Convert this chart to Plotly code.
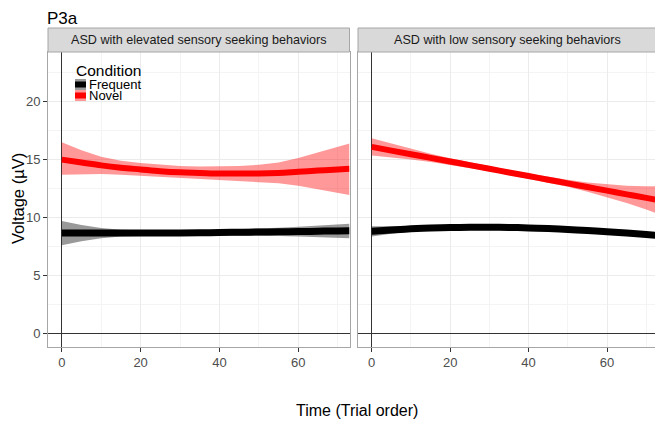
import plotly.graph_objects as go

# ---------------- data ----------------
trial = [0, 5, 10, 15, 20, 25, 30, 35, 40, 45, 50, 55, 60, 65, 70, 73]

panels = ["ASD with elevated sensory seeking behaviors", "ASD with low sensory seeking behaviors"]
conditions = ["Frequent", "Novel"]

# elevated sensory seeking
elev_freq_mean = [8.65, 8.65, 8.65, 8.65, 8.65, 8.65, 8.65, 8.67, 8.70, 8.72, 8.74, 8.76, 8.78, 8.81, 8.84, 8.85]
elev_freq_lo = [7.60, 7.95, 8.20, 8.35, 8.40, 8.45, 8.45, 8.45, 8.45, 8.45, 8.42, 8.40, 8.35, 8.30, 8.25, 8.20]
elev_freq_hi = [9.70, 9.35, 9.10, 8.95, 8.90, 8.88, 8.87, 8.88, 8.93, 8.98, 9.05, 9.12, 9.20, 9.30, 9.40, 9.45]
elev_nov_mean = [15.0, 14.75, 14.5, 14.3, 14.15, 14.0, 13.9, 13.85, 13.8, 13.8, 13.8, 13.85, 13.95, 14.05, 14.15, 14.2]
elev_nov_lo = [13.7, 13.75, 13.75, 13.7, 13.6, 13.5, 13.4, 13.3, 13.2, 13.15, 13.05, 12.95, 12.75, 12.45, 12.15, 11.95]
elev_nov_hi = [16.5, 15.8, 15.25, 14.9, 14.7, 14.55, 14.45, 14.4, 14.4, 14.45, 14.55, 14.75, 15.15, 15.65, 16.15, 16.4]

# low sensory seeking
low_freq_mean = [8.80, 8.92, 9.02, 9.09, 9.13, 9.15, 9.15, 9.14, 9.10, 9.04, 8.96, 8.87, 8.77, 8.65, 8.52, 8.45]
low_freq_lo = [8.35, 8.60, 8.80, 8.93, 9.00, 9.03, 9.04, 9.03, 8.99, 8.92, 8.83, 8.73, 8.60, 8.45, 8.30, 8.20]
low_freq_hi = [9.25, 9.24, 9.24, 9.25, 9.26, 9.27, 9.26, 9.25, 9.21, 9.16, 9.09, 9.01, 8.94, 8.85, 8.74, 8.70]
low_nov_mean = [16.1, 15.78, 15.47, 15.15, 14.84, 14.52, 14.21, 13.89, 13.58, 13.26, 12.95, 12.63, 12.32, 12.0, 11.69, 11.5]
low_nov_lo = [15.35, 15.18, 15.02, 14.80, 14.56, 14.27, 13.99, 13.67, 13.36, 13.01, 12.65, 12.23, 11.77, 11.25, 10.69, 10.30]
low_nov_hi = [16.85, 16.38, 15.92, 15.50, 15.12, 14.77, 14.43, 14.11, 13.80, 13.51, 13.25, 13.03, 12.87, 12.75, 12.69, 12.70]

x_ticks = [0, 20, 40, 60]
y_ticks = [0, 5, 10, 15, 20]

# ---------------- style ----------------
PAGE_OFF = 8  # default page margin around the plot div
W, H = 663 - PAGE_OFF, 426 - PAGE_OFF
FONT = "Liberation Sans, Arial, sans-serif"
line_col = {"Frequent": "#000000", "Novel": "#ff0000"}
band_col = {"Frequent": "rgba(0,0,0,0.4)", "Novel": "rgba(255,0,0,0.4)"}
line_w = {"Frequent": 7, "Novel": 6}

def px_x(p):
    return (p - PAGE_OFF) / W

def px_y(p):
    return 1 - (p - PAGE_OFF) / H

x_domains = [[px_x(48), px_x(349.5)], [px_x(358), px_x(658)]]
y_domain = [px_y(346.5), px_y(52)]

fig = go.Figure()

series = [
    [("Frequent", elev_freq_mean, elev_freq_lo, elev_freq_hi), ("Novel", elev_nov_mean, elev_nov_lo, elev_nov_hi)],
    [("Frequent", low_freq_mean, low_freq_lo, low_freq_hi), ("Novel", low_nov_mean, low_nov_lo, low_nov_hi)],
]

for i, panel_series in enumerate(series):
    xa = "x" if i == 0 else "x2"
    ya = "y" if i == 0 else "y2"
    for cond, mean, lo, hi in panel_series:
        fig.add_trace(go.Scatter(
            x=trial + trial[::-1], y=hi + lo[::-1], fill="toself",
            fillcolor=band_col[cond], line=dict(width=0), mode="lines",
            hoverinfo="skip", showlegend=False, xaxis=xa, yaxis=ya,
        ))
    for cond, mean, lo, hi in panel_series:
        fig.add_trace(go.Scatter(
            x=trial, y=mean, mode="lines", name=cond, legendgroup=cond,
            line=dict(color=line_col[cond], width=line_w[cond], shape="spline"),
            showlegend=False, xaxis=xa, yaxis=ya,
        ))

axis_common = dict(
    range=[-3.5, 73.0], tickvals=x_ticks, ticks="outside", ticklen=4, tickcolor="#333333",
    tickfont=dict(family=FONT, size=13, color="#4d4d4d"),
    showgrid=True, gridcolor="#ebebeb", gridwidth=1,
    minor=dict(dtick=10, tick0=0, showgrid=True, gridcolor="#f4f4f4", gridwidth=0.6),
    zeroline=True, zerolinecolor="#333333", zerolinewidth=1,
    showline=True, linecolor="#a6a6a6", linewidth=1, mirror=True,
)
yaxis_common = dict(
    range=[-1.15, 24.3], tickvals=y_ticks, ticks="outside", ticklen=4, tickcolor="#333333",
    tickfont=dict(family=FONT, size=13, color="#4d4d4d"),
    showgrid=True, gridcolor="#ebebeb", gridwidth=1,
    minor=dict(dtick=2.5, tick0=0, showgrid=True, gridcolor="#f4f4f4", gridwidth=0.6),
    zeroline=True, zerolinecolor="#333333", zerolinewidth=1,
    showline=True, linecolor="#a6a6a6", linewidth=1, mirror=True,
    domain=y_domain,
)

fig.update_layout(
    width=W, height=H, margin=dict(l=0, r=0, t=0, b=0),
    paper_bgcolor="white", plot_bgcolor="white",
    font=dict(family=FONT, color="#000000"),
    xaxis=dict(axis_common, domain=x_domains[0], anchor="y"),
    xaxis2=dict(axis_common, domain=x_domains[1], anchor="y2"),
    yaxis=dict(yaxis_common, anchor="x"),
    yaxis2=dict(yaxis_common, anchor="x2", showticklabels=False, ticks=""),
    showlegend=False,
)

shapes = []
annotations = []

# facet strips
for i, name in enumerate(panels):
    x0, x1 = x_domains[i]
    shapes.append(dict(type="rect", xref="paper", yref="paper", x0=x0, x1=x1,
                       y0=px_y(52), y1=px_y(28), fillcolor="#d9d9d9",
                       line=dict(color="#a6a6a6", width=1), layer="above"))
    annotations.append(dict(text=name, xref="paper", yref="paper", x=(x0 + x1) / 2, y=px_y(40),
                            showarrow=False, xanchor="center", yanchor="middle",
                            font=dict(family=FONT, size=12.6, color="#1a1a1a")))

# legend (drawn inside the left panel)
annotations.append(dict(text="Condition", xref="paper", yref="paper", x=px_x(74), y=px_y(70),
                        showarrow=False, xanchor="left", yanchor="middle",
                        font=dict(family=FONT, size=15.5, color="#000000")))
for k, cond in enumerate(conditions):
    top = 79 + 11 * k
    shapes.append(dict(type="rect", xref="paper", yref="paper", x0=px_x(75), x1=px_x(86),
                       y0=px_y(top + 11), y1=px_y(top), fillcolor=band_col[cond],
                       line=dict(width=0), layer="above"))
    shapes.append(dict(type="rect", xref="paper", yref="paper", x0=px_x(75), x1=px_x(86),
                       y0=px_y(top + 8.5), y1=px_y(top + 2.5), fillcolor=line_col[cond],
                       line=dict(width=0), layer="above"))
    annotations.append(dict(text=cond, xref="paper", yref="paper", x=px_x(87), y=px_y(top + 5.5),
                            showarrow=False, xanchor="left", yanchor="middle",
                            font=dict(family=FONT, size=13, color="#000000")))

annotations.append(dict(text="P3a", xref="paper", yref="paper", x=px_x(46), y=1.0,
                        showarrow=False, xanchor="left", yanchor="top", borderpad=0,
                        font=dict(family=FONT, size=17, color="#000000")))
annotations.append(dict(text="Voltage (µV)", xref="paper", yref="paper", x=px_x(18), y=px_y(199),
                        showarrow=False, xanchor="center", yanchor="middle", textangle=-90,
                        font=dict(family=FONT, size=16.5, color="#000000")))
annotations.append(dict(text="Time (Trial order)", xref="paper", yref="paper", x=px_x(357), y=px_y(410),
                        showarrow=False, xanchor="center", yanchor="middle",
                        font=dict(family=FONT, size=16, color="#000000")))

fig.update_layout(shapes=shapes, annotations=annotations)

fig.write_html("out.html")
